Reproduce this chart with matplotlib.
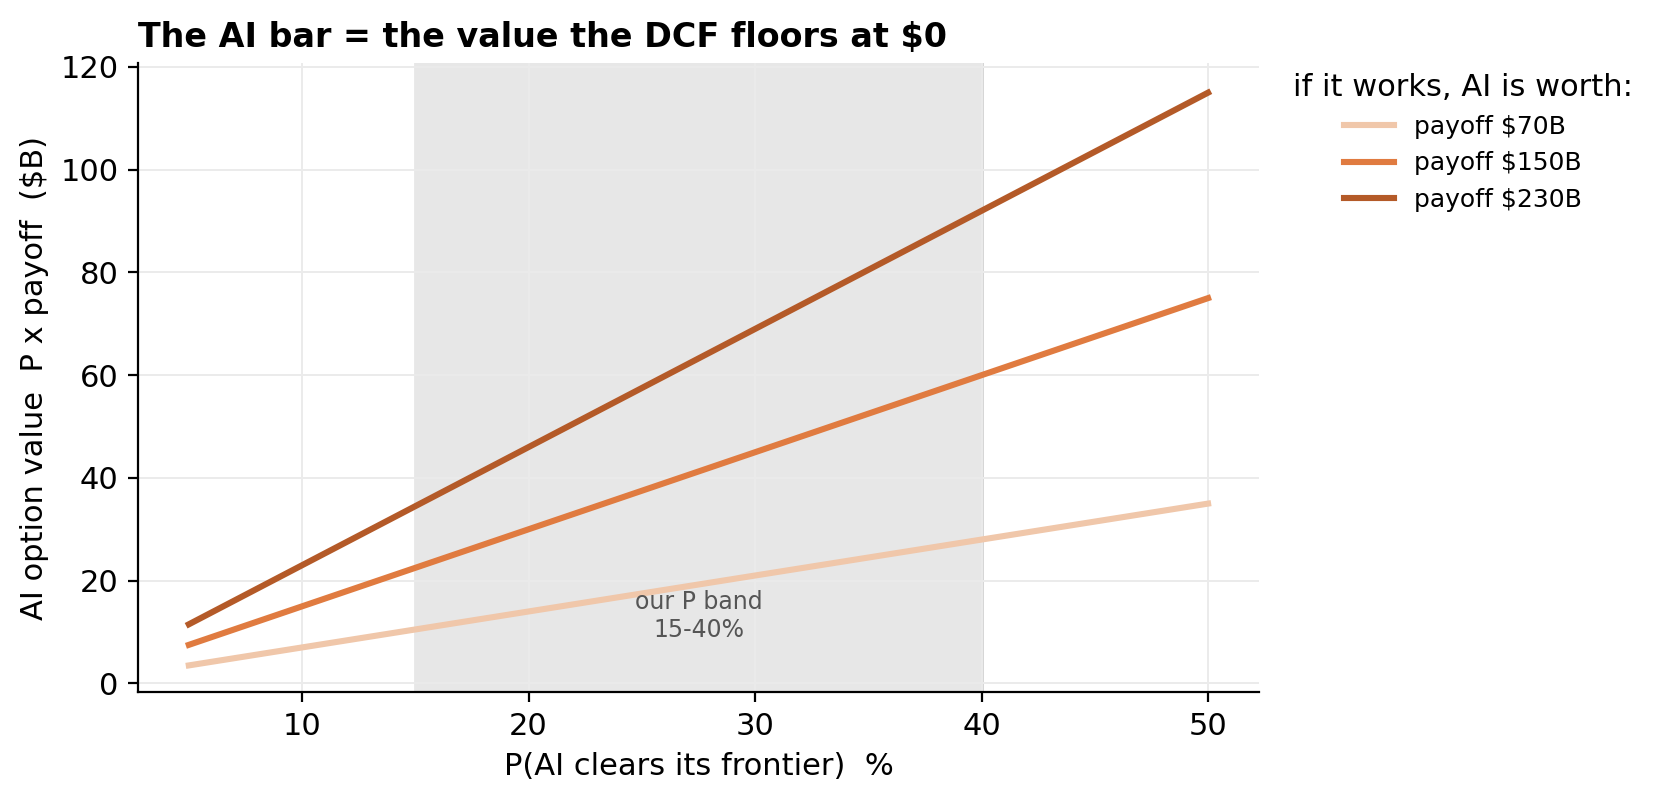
import matplotlib
matplotlib.use("Agg")
from matplotlib import pyplot as plt

# P(AI clears its frontier), %
p_pct = [5, 10, 15, 20, 25, 30, 35, 40, 45, 50]

# option value P x payoff ($B)
val_70 = [3.5, 7.0, 10.5, 14.0, 17.5, 21.0, 24.5, 28.0, 31.5, 35.0]
val_150 = [7.5, 15.0, 22.5, 30.0, 37.5, 45.0, 52.5, 60.0, 67.5, 75.0]
val_230 = [11.5, 23.0, 34.5, 46.0, 57.5, 69.0, 80.5, 92.0, 103.5, 115.0]

labels = ["payoff $70B", "payoff $150B", "payoff $230B"]
band = [15, 40]

fig = plt.figure(figsize=(8.305, 4.01), dpi=200)
ax = fig.add_axes([0.083, 0.137, 0.675, 0.784])

ax.axvspan(band[0], band[1], color="#e7e7e7", zorder=0)
ax.axvline(band[1], color="#d4d4d4", lw=1, zorder=0)
ax.plot(p_pct, val_70, color="#f0c7aa", lw=2.2, label=labels[0])
ax.plot(p_pct, val_150, color="#e07b40", lw=2.2, label=labels[1])
ax.plot(p_pct, val_230, color="#b45a28", lw=2.2, label=labels[2])

ax.text(27.5, 8, "our P band\n15-40%", ha="center", va="bottom", fontsize=8.5,
        color="#555555")

ax.grid(True, color="#ebebeb", lw=0.7)
ax.set_axisbelow(True)
ax.spines["top"].set_visible(False)
ax.spines["right"].set_visible(False)
ax.set_xlim(2.75, 52.25)
ax.set_ylim(-1.7, 120.7)
ax.set_yticks([0, 20, 40, 60, 80, 100, 120])
ax.set_xticks([10, 20, 30, 40, 50])
ax.tick_params(labelsize=11)
ax.set_xlabel("P(AI clears its frontier)  %", fontsize=11)
ax.set_ylabel("AI option value  P x payoff  ($B)", fontsize=11)
ax.set_title("The AI bar = the value the DCF floors at $0", loc="left",
             fontsize=12, fontweight="bold")

leg = ax.legend(title="if it works, AI is worth:", loc="upper left",
                bbox_to_anchor=(1.01, 1.02), frameon=False, fontsize=9,
                title_fontsize=11)

fig.savefig("out.png", dpi=200)
